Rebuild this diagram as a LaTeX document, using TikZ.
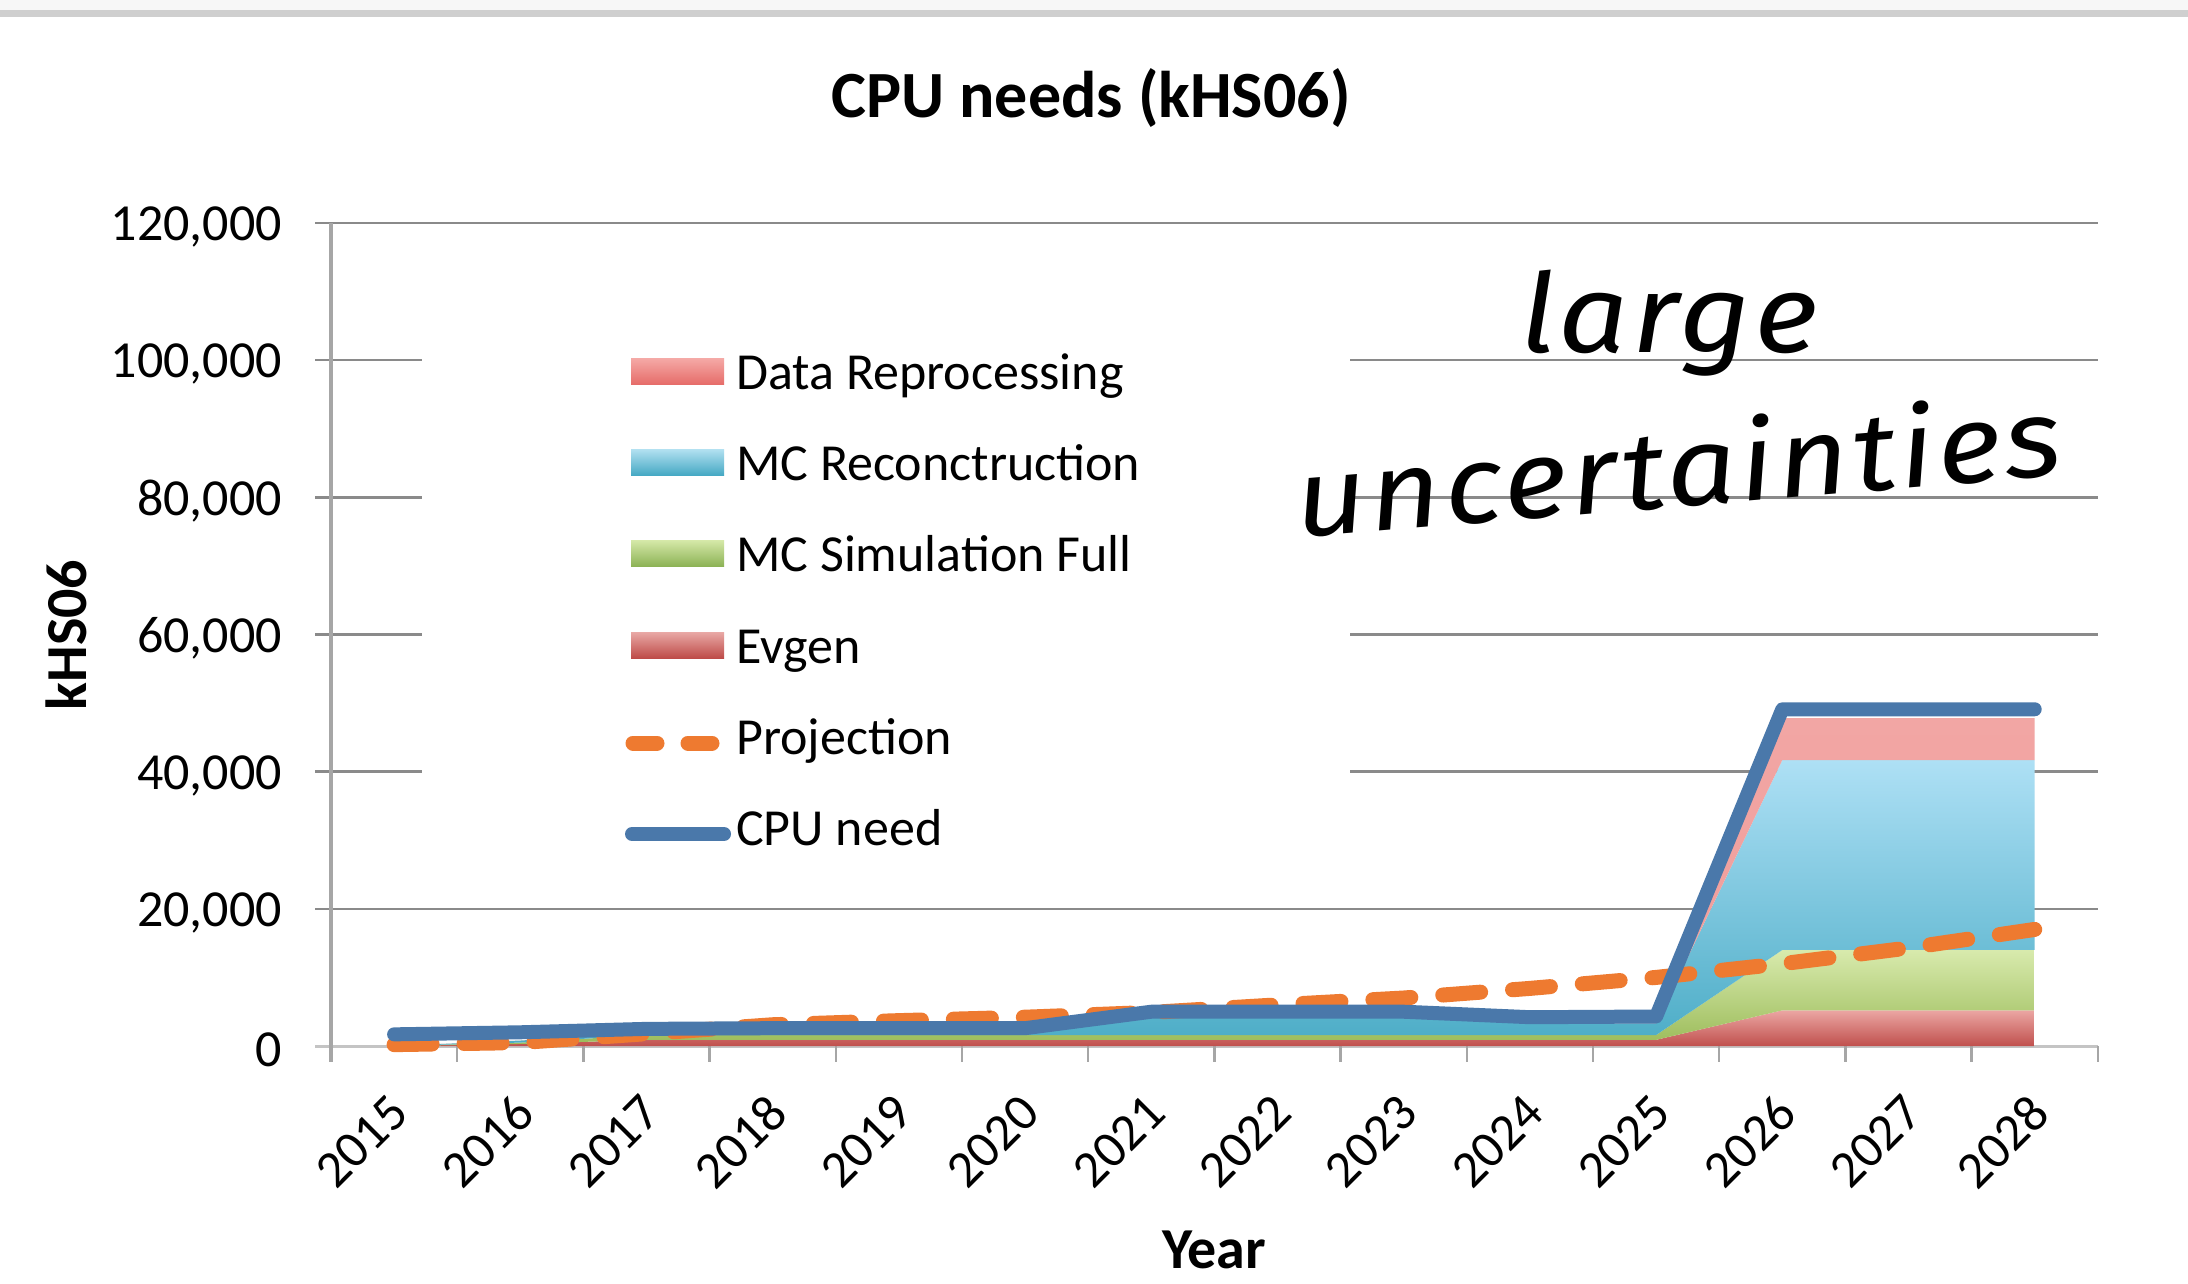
\documentclass[tikz,border=0pt]{standalone}
\usepackage{fontspec}
\setmainfont{Carlito}
\newfontfamily\handfont{Fira Sans}[LetterSpace=3]

\definecolor{gridC}{HTML}{8A8A8A}
\definecolor{axisC}{HTML}{A6A6A6}
\definecolor{xaxisC}{HTML}{C4C4C4}
\definecolor{cpuC}{HTML}{4A78AA}
\definecolor{projC}{HTML}{EE7A30}
\definecolor{evgenT}{HTML}{EBA6A3}
\definecolor{evgenB}{HTML}{C0504D}
\definecolor{simT}{HTML}{D8EAAD}
\definecolor{simB}{HTML}{9BBB59}
\definecolor{recoT}{HTML}{AEE0F5}
\definecolor{recoB}{HTML}{4BACC6}
\definecolor{reproT}{HTML}{F2A6A4}
\definecolor{reproB}{HTML}{EE9C9A}
\definecolor{lgReproT}{HTML}{F5AAA7}
\definecolor{lgReproB}{HTML}{E66D6A}
\definecolor{lgRecoT}{HTML}{B3E1F1}
\definecolor{lgRecoB}{HTML}{46A9C4}
\definecolor{lgSimT}{HTML}{D6E9A9}
\definecolor{lgSimB}{HTML}{8DB356}
\definecolor{lgEvgenT}{HTML}{E9A9A6}
\definecolor{lgEvgenB}{HTML}{BE4B48}

\begin{document}
\begin{tikzpicture}[x=1pt,y=-1pt,
  gridline/.style={draw=gridC,line width=2.5},
  yaxis/.style={draw=axisC,line width=4},
  xaxis/.style={draw=xaxisC,line width=3},
  tickmark/.style={draw=axisC,line width=2.5},
  ticklab/.style={font=\fontsize{52}{60}\selectfont,inner sep=0pt},
  axtitle/.style={font=\fontsize{58}{66}\selectfont\bfseries,inner sep=0pt},
  legtext/.style={font=\fontsize{52}{60}\selectfont,inner sep=0pt,anchor=base west},
  cpuline/.style={draw=cpuC,line width=14,line cap=round,line join=round},
  projline/.style={draw=projC,line width=15,line cap=round,line join=round,dash pattern=on 38 off 32},
  hand/.style={font=\fontsize{110}{120}\selectfont\handfont\itshape,inner sep=0pt,anchor=base west}]

\useasboundingbox (0,0) rectangle (2188,1283);
\fill[white] (0,0) rectangle (2188,1283);
% thin band and rule along the top edge
\fill[black!3] (0,0) rectangle (2188,10);
\fill[black!19] (0,10) rectangle (2188,17);

\node[font=\fontsize{66}{72}\selectfont\bfseries,inner sep=0pt] (title) at (1091,98) {CPU needs (kHS06)};

% horizontal gridlines every 20,000
\foreach \k in {1,...,6}
  \draw[gridline] (315,{1046-137.17*\k}) -- (2098,{1046-137.17*\k});

% legend background hides the gridlines behind it
\fill[white] (422,300) rectangle (1350,872);

% axes and tick marks
\draw[xaxis] (315,1046) -- (2098,1046);
\foreach \k in {1,...,14}
  \draw[tickmark] ({331+126.2*\k},1046) -- ({331+126.2*\k},1062);
\draw[yaxis] (331,223) -- (331,1062);

% y tick labels
\foreach \k/\lab in {0/0,1/{20,000},2/{40,000},3/{60,000},4/{80,000},5/{100,000},6/{120,000}}
  \node[ticklab,anchor=east] (ylab\k) at (282,{1050-137.17*\k}) {\lab};

% x tick labels
\foreach \yr [count=\i from 0] in {2015,...,2028}
  \node[ticklab,anchor=east,rotate=45] (xlab\i) at ({331+126.2*(\i+0.5)+5},1104) {\yr};

\node[axtitle] (xtitle) at (1214,1250) {Year};
\node[axtitle,rotate=90] (ytitle) at (66,635) {kHS06};

% series values in thousands: evgen, +sim, +reco, +repro (cumulative), projection, cpu need
\foreach \i/\e/\s/\r/\d/\p/\c in {
   0/0/0/0/0/0.2/1.7,
   1/0.3/0.5/0.8/0.8/0.5/2.0,
   2/0.9/1.6/1.9/1.9/1.8/2.5,
   3/0.9/1.6/1.9/1.9/3.1/2.6,
   4/0.9/1.6/1.9/1.9/3.7/2.6,
   5/0.9/1.6/1.9/1.9/4.2/2.6,
   6/0.9/1.6/4.2/4.2/4.9/5.0,
   7/0.9/1.6/4.2/4.2/6.0/5.0,
   8/0.9/1.6/4.2/4.2/7.0/5.0,
   9/0.9/1.6/3.3/3.3/8.4/4.2,
  10/0.9/1.6/3.3/3.3/10.0/4.3,
  11/5.2/14.0/41.7/47.8/12.0/49.1,
  12/5.2/14.0/41.7/47.8/14.3/49.1,
  13/5.2/14.0/41.7/47.8/17.0/49.1}{
  \coordinate (b\i) at ({331+126.2*(\i+0.5)},1046);
  \coordinate (e\i) at ({331+126.2*(\i+0.5)},{1046-6.8583*\e});
  \coordinate (s\i) at ({331+126.2*(\i+0.5)},{1046-6.8583*\s});
  \coordinate (r\i) at ({331+126.2*(\i+0.5)},{1046-6.8583*\r});
  \coordinate (d\i) at ({331+126.2*(\i+0.5)},{1046-6.8583*\d});
  \coordinate (p\i) at ({331+126.2*(\i+0.5)},{1046-6.8583*\p});
  \coordinate (c\i) at ({331+126.2*(\i+0.5)},{1046-6.8583*\c});
}

% stacked areas
\shade[top color=evgenT,bottom color=evgenB]
  (b0) foreach \i in {1,...,13}{-- (b\i)} foreach \i in {13,12,...,0}{-- (e\i)} -- cycle;
\shade[top color=simT,bottom color=simB]
  (e0) foreach \i in {1,...,13}{-- (e\i)} foreach \i in {13,12,...,0}{-- (s\i)} -- cycle;
\shade[top color=recoT,bottom color=recoB]
  (s0) foreach \i in {1,...,13}{-- (s\i)} foreach \i in {13,12,...,0}{-- (r\i)} -- cycle;
\shade[top color=reproT,bottom color=reproB]
  (r0) foreach \i in {1,...,13}{-- (r\i)} foreach \i in {13,12,...,0}{-- (d\i)} -- cycle;

% projection and CPU need lines
\draw[projline] (p0) foreach \i in {1,...,13}{-- (p\i)};
\draw[cpuline] (c0) foreach \i in {1,...,13}{-- (c\i)};

% legend
\shade[top color=lgReproT,bottom color=lgReproB] (631,358) rectangle (724,384);
\node[legtext] (lg1) at (736,389) {Data Reprocessing};
\shade[top color=lgRecoT,bottom color=lgRecoB] (631,449) rectangle (724,475);
\node[legtext] (lg2) at (736,480) {MC Reconctruction};
\shade[top color=lgSimT,bottom color=lgSimB] (631,540) rectangle (724,566);
\node[legtext] (lg3) at (736,571) {MC Simulation Full};
\shade[top color=lgEvgenT,bottom color=lgEvgenB] (631,632) rectangle (724,658);
\node[legtext] (lg4) at (736,663) {Evgen};
\draw[projline,dash pattern=on 24 off 31] (633,743) -- (713,743);
\node[legtext] (lg5) at (736,754) {Projection};
\draw[cpuline] (632,834) -- (724,834);
\node[legtext] (lg6) at (736,845) {CPU need};

% handwritten note
\node[hand] (note1) at (1520,352) {\scalebox{1.12}[1]{large}};
\node[hand,rotate=4.7] (note2) at (1298,538) {\scalebox{1.12}[1]{uncertainties}};
\end{tikzpicture}
\end{document}
